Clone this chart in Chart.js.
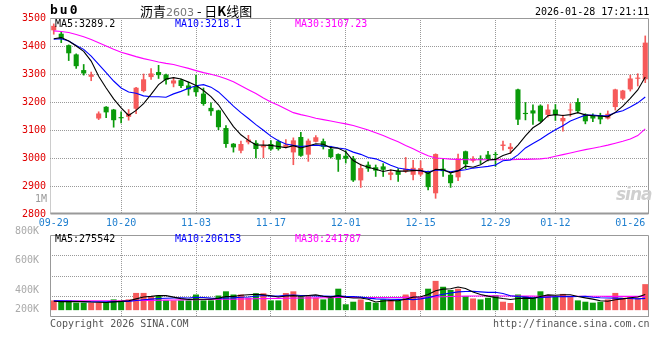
<!DOCTYPE html>
<html>
<head>
<meta charset="utf-8">
<script src="https://cdn.jsdelivr.net/npm/chart.js"></script>
<style>
  body { margin: 0; background: #fff; width: 660px; height: 360px; position: relative; overflow: hidden; }
  canvas { position: absolute; left: 0; }
  #kline { top: 0; }
  #vol { top: 226px; }
  .t { position: absolute; white-space: nowrap; font-family: "DejaVu Sans Mono", monospace; font-size: 10px; line-height: 12px; }
</style>
</head>
<body>
<canvas id="kline" width="660" height="232"></canvas>
<canvas id="vol" width="660" height="100"></canvas>

<div class="t" style="left:50px;top:4px;font-size:13px;font-weight:bold;letter-spacing:2px;">bu0</div>
<div class="t" style="left:140px;top:3px;font-family:'Noto Sans CJK SC';font-size:13px;line-height:15px;">沥青<span style="color:#777;font-family:'DejaVu Sans';font-size:11px;">2603</span> - 日<b>K</b>线图</div>
<div class="t" style="left:535px;top:6px;">2026-01-28 17:21:11</div>

<div class="t" style="left:55px;top:18px;color:#000;">MA5:3289.2</div>
<div class="t" style="left:175px;top:18px;color:#0000ff;">MA10:3218.1</div>
<div class="t" style="left:295px;top:18px;color:#ff00ff;">MA30:3107.23</div>
<div class="t" style="left:35px;top:193px;color:#999;">1M</div>

<div class="t" style="left:616px;top:184px;font-family:'DejaVu Sans';font-size:17px;line-height:20px;font-weight:bold;font-style:italic;color:#cfcfcf;letter-spacing:-1px;">sina</div>

<div class="t" style="left:55px;top:233px;color:#000;">MA5:275542</div>
<div class="t" style="left:175px;top:233px;color:#0000ff;">MA10:206153</div>
<div class="t" style="left:295px;top:233px;color:#ff00ff;">MA30:241787</div>

<div class="t" style="left:50px;top:318px;color:#555;">Copyright 2026 SINA.COM</div>
<div class="t" style="left:493px;top:318px;color:#555;">http://finance.sina.com.cn</div>

<script>
// trading days shown
const dates = [
  '09-29','09-30','10-09','10-10','10-13','10-14','10-15','10-16','10-17','10-20',
  '10-21','10-22','10-23','10-24','10-27','10-28','10-29','10-30','10-31','11-03',
  '11-04','11-05','11-06','11-07','11-10','11-11','11-12','11-13','11-14','11-17',
  '11-18','11-19','11-20','11-21','11-24','11-25','11-26','11-27','11-28','12-01',
  '12-02','12-03','12-04','12-05','12-08','12-09','12-10','12-11','12-12','12-15',
  '12-16','12-17','12-18','12-19','12-22','12-23','12-24','12-25','12-26','12-29',
  '12-30','12-31','01-05','01-06','01-07','01-08','01-09','01-12','01-13','01-14',
  '01-15','01-16','01-19','01-20','01-21','01-22','01-23','01-26','01-27','01-28'
];
const shownDates = ['09-29','10-20','11-03','11-17','12-01','12-15','12-29','01-12','01-26'];
const gridDates = ['10-20','11-03','11-17','12-01','12-15','12-29','01-12'];

const opens = [
  3456,3444,3403,3370,3314,3290,3141,3183,3173,3146,
  3147,3176,3239,3289,3307,3298,3266,3278,3259,3257,
  3230,3179,3170,3107,3051,3026,3056,3054,3038,3050,
  3060,3040,3020,3075,3012,3058,3060,3032,3014,3008,
  2998,2920,2976,2967,2970,2940,2954,2952,2940,2941,
  2952,2874,2962,2940,2931,3024,2990,2998,3012,3014,
  3043,3032,3245,3161,3170,3187,3154,3173,3131,3170,
  3200,3155,3153,3153,3141,3182,3212,3245,3283,3281
];
const highs = [
  3479,3450,3404,3372,3334,3307,3165,3184,3174,3165,
  3173,3252,3300,3319,3331,3300,3287,3282,3271,3296,
  3250,3197,3171,3116,3052,3060,3081,3062,3062,3062,
  3064,3066,3072,3092,3068,3080,3068,3042,3015,3026,
  3006,2978,2986,2975,2980,2958,2962,3002,2992,2990,
  2953,3015,2998,2945,3014,3025,3005,3008,3024,3021,
  3060,3052,3246,3198,3190,3190,3191,3191,3153,3194,
  3212,3158,3158,3160,3168,3246,3242,3296,3301,3436
];
const lows = [
  3442,3412,3348,3320,3296,3276,3137,3144,3110,3125,
  3135,3158,3236,3281,3284,3264,3254,3251,3224,3221,
  3188,3152,3101,3038,3021,3018,3050,3000,3001,3028,
  3028,3036,2976,3006,2988,3057,3032,3000,2952,2982,
  2916,2895,2952,2934,2934,2922,2916,2948,2922,2936,
  2886,2856,2934,2895,2919,2962,2985,2980,2990,2970,
  3028,3016,3119,3136,3120,3128,3146,3134,3096,3149,
  3161,3122,3130,3122,3139,3171,3208,3239,3257,3269
];
const closes = [
  3472,3427,3374,3328,3302,3298,3159,3163,3135,3142,
  3159,3251,3281,3302,3296,3279,3277,3257,3245,3235,
  3193,3167,3110,3050,3038,3050,3066,3032,3044,3031,
  3032,3048,3063,3008,3062,3074,3040,3003,2994,2997,
  2920,2964,2962,2955,2958,2948,2940,2962,2965,2964,
  2896,3014,2953,2910,2998,2978,2998,2994,2996,3011,
  3048,3040,3137,3157,3159,3131,3173,3154,3143,3173,
  3167,3131,3141,3138,3158,3245,3241,3284,3287,3412
];

const ma5 = [
  3426,3430,3418,3400,3381,3346,3292,3250,3211,3179,
  3152,3170,3194,3227,3262,3282,3287,3282,3271,3259,
  3241,3219,3190,3151,3112,3083,3063,3047,3046,3045,
  3041,3037,3044,3036,3043,3051,3049,3037,3035,3022,
  2991,2976,2967,2960,2952,2957,2953,2953,2955,2956,
  2945,2960,2958,2947,2954,2971,2967,2976,2993,2995,
  3009,3018,3046,3079,3108,3125,3151,3155,3152,3155,
  3162,3154,3151,3150,3147,3163,3185,3213,3243,3289
];
const ma10 = [
  3424,3426,3418,3402,3388,3364,3334,3305,3275,3250,
  3236,3231,3222,3219,3219,3217,3229,3238,3249,3258,
  3262,3253,3236,3211,3185,3162,3141,3119,3099,3078,
  3062,3050,3045,3041,3044,3046,3043,3041,3036,3032,
  3021,3013,3002,2997,2987,2974,2964,2960,2957,2954,
  2951,2956,2956,2951,2955,2958,2964,2967,2970,2975,
  2990,2993,3011,3036,3052,3067,3085,3101,3115,3132,
  3143,3153,3153,3151,3151,3162,3169,3182,3197,3218
];
const ma30 = [
  3454,3452,3448,3441,3433,3423,3412,3400,3388,3378,
  3370,3362,3355,3349,3343,3338,3334,3327,3320,3312,
  3305,3299,3292,3283,3272,3258,3244,3230,3214,3200,
  3188,3175,3162,3155,3149,3142,3137,3132,3127,3122,
  3116,3108,3100,3090,3080,3069,3058,3045,3033,3020,
  3008,3000,2998,2996,2995,2994,2994,2994,2994,2994,
  2994,2994,2995,2995,2996,2997,3000,3006,3012,3018,
  3024,3030,3035,3040,3046,3053,3060,3068,3080,3104
];

const volumes = [
  171000,148000,171000,131000,131000,131000,131000,143000,188000,171000,
  188000,302000,302000,240000,256000,171000,171000,171000,171000,274000,
  171000,171000,256000,330000,274000,274000,217000,296000,296000,171000,
  171000,300000,330000,245000,245000,217000,188000,245000,376000,103000,
  148000,188000,143000,131000,188000,188000,171000,274000,319000,225000,
  376000,513000,410000,354000,376000,245000,205000,188000,217000,262000,
  148000,125000,274000,245000,228000,330000,262000,245000,285000,228000,
  171000,148000,131000,148000,188000,302000,217000,228000,217000,456000
];
const volMa5 = [
  155000,150000,150000,150000,150000,142000,139000,133000,145000,153000,
  164000,198000,230000,241000,258000,254000,228000,202000,188000,192000,
  192000,192000,209000,240000,240000,261000,270000,278000,271000,251000,
  230000,247000,254000,243000,258000,267000,245000,228000,254000,226000,
  212000,212000,192000,143000,160000,168000,164000,190000,228000,235000,
  273000,341000,369000,376000,406000,380000,318000,274000,246000,223000,
  204000,188000,205000,211000,204000,240000,268000,262000,270000,270000,
  238000,215000,193000,165000,157000,183000,197000,217000,230000,276000
];
const volMa10 = [
  165000,165000,160000,155000,150000,148000,147000,148000,150000,152000,
  153000,169000,182000,193000,205000,209000,213000,216000,214000,225000,
  223000,210000,205000,214000,216000,226000,231000,243000,256000,246000,
  246000,259000,266000,257000,255000,249000,246000,241000,249000,242000,
  240000,229000,210000,198000,193000,190000,188000,191000,185000,198000,
  220000,253000,280000,302000,321000,326000,330000,321000,311000,315000,
  292000,253000,239000,229000,214000,222000,228000,234000,240000,237000,
  239000,242000,227000,218000,214000,211000,206000,205000,198000,206000
];
const volMa30 = [
  162000,162000,162000,163000,163000,164000,164000,165000,165000,166000,
  167000,168000,170000,172000,174000,176000,178000,180000,182000,184000,
  186000,188000,190000,192000,194000,196000,198000,200000,202000,204000,
  206000,208000,210000,212000,214000,216000,218000,220000,221000,222000,
  222000,222000,222000,222000,222000,222000,223000,224000,225000,226000,
  228000,232000,236000,240000,244000,246000,248000,249000,250000,250000,
  249000,248000,247000,246000,245000,244000,244000,243000,243000,243000,
  243000,243000,243000,243000,242000,242000,242000,242000,242000,242000
];
const volTickLabels = ['200K','400K','600K','800K'];

const UP = '#f65a5a';
const DOWN = '#0a9a0a';
const GRID = '#999';
const mono = { family: '"DejaVu Sans Mono", monospace', size: 10 };

const candleColors = closes.map((c, i) => c >= opens[i] ? UP : DOWN);

// border round the plot area
const framePlugin = {
  id: 'frame',
  afterDraw(chart, args, o) {
    const { ctx, chartArea: a } = chart;
    const l = Math.round(a.left) + 0.5, r = Math.round(a.right) - 0.5;
    const t = Math.round(a.top) + 0.5, b = Math.round(a.bottom) - 0.5;
    const seg = (x1, y1, x2, y2) => { ctx.beginPath(); ctx.moveTo(x1, y1); ctx.lineTo(x2, y2); ctx.stroke(); };
    ctx.save();
    ctx.strokeStyle = o.color || '#999';
    ctx.lineWidth = 1;
    seg(l, t, r, t);
    seg(r, t, r, b + 0.5);
    ctx.lineWidth = o.bottomWidth || 1;
    seg(l, b, r, b);
    ctx.lineWidth = 1;
    ctx.setLineDash(o.leftDash || []);
    seg(l, t, l, b);
    ctx.restore();
  }
};

const xGridColor = (ctx) => gridDates.includes(dates[ctx.index]) ? GRID : 'rgba(0,0,0,0)';

function maLine(data, color) {
  return {
    type: 'line', data, borderColor: color, borderWidth: 1.1,
    pointRadius: 0, tension: 0, fill: false, order: 0, yAxisID: 'y'
  };
}

new Chart(document.getElementById('kline'), {
  type: 'bar',
  data: {
    labels: dates,
    datasets: [
      maLine(ma5, '#000000'),
      maLine(ma10, '#0000ff'),
      maLine(ma30, '#ff00ff'),
      {
        // body
        data: opens.map((o, i) => [o, closes[i]]),
        backgroundColor: candleColors,
        borderWidth: 0,
        barPercentage: 0.68,
        categoryPercentage: 1,
        grouped: false,
        order: 1
      },
      {
        // wick
        data: lows.map((l, i) => [l, highs[i]]),
        backgroundColor: candleColors,
        borderWidth: 0,
        barThickness: 1,
        grouped: false,
        order: 2
      }
    ]
  },
  options: {
    responsive: false,
    animation: false,
    layout: { padding: { left: 0, right: 11, top: 18, bottom: 0 } },
    plugins: {
      legend: { display: false },
      tooltip: { enabled: false },
      frame: { color: '#999', bottomWidth: 2, leftDash: [1, 1] }
    },
    scales: {
      x: {
        offset: true,
        grid: { offset: false, drawTicks: false, color: xGridColor },
        border: { display: false, dash: [1, 1] },
        ticks: {
          autoSkip: false, maxRotation: 0, padding: 3, color: '#1f7fcf', font: mono,
          callback: (v, i) => shownDates.includes(dates[i]) ? dates[i] : ''
        },
        afterFit: (s) => { s.height = 18; }
      },
      y: {
        min: 2800, max: 3500,
        ticks: { stepSize: 100, padding: 4, color: '#e00000', font: mono, callback: (v) => String(v) },
        grid: {
          drawTicks: false,
          color: (ctx) => (ctx.tick && (ctx.tick.value === 2800 || ctx.tick.value === 3500)) ? 'rgba(0,0,0,0)' : GRID
        },
        border: { display: false, dash: [1, 1] },
        afterFit: (s) => { s.width = 50; }
      }
    }
  },
  plugins: [framePlugin]
});

const volMin = -120000, volMax = 1317000;

new Chart(document.getElementById('vol'), {
  type: 'bar',
  data: {
    labels: dates,
    datasets: [
      maLine(volMa5, '#000000'),
      maLine(volMa10, '#0000ff'),
      maLine(volMa30, '#ff00ff'),
      {
        data: volumes,
        backgroundColor: candleColors,
        borderWidth: 0,
        barPercentage: 0.8,
        categoryPercentage: 1,
        order: 1,
        yAxisID: 'y'
      }
    ]
  },
  options: {
    responsive: false,
    animation: false,
    layout: { padding: { left: 0, right: 11, top: 8, bottom: 7 } },
    plugins: {
      legend: { display: false },
      tooltip: { enabled: false },
      frame: { color: '#999', bottomWidth: 1, leftDash: [] }
    },
    scales: {
      x: {
        offset: true,
        grid: { offset: false, drawTicks: false, color: xGridColor },
        border: { display: false, dash: [1, 1] },
        ticks: { autoSkip: false, maxRotation: 0, padding: 0, color: 'rgba(0,0,0,0)', font: mono, callback: () => '' },
        afterFit: (s) => { s.height = 1; }
      },
      // grid lines of the volume panel (outer axis, 1px wide)
      y: {
        weight: 1,
        min: volMin, max: volMax,
        afterBuildTicks: (s) => { s.ticks = [239400, 598500, 957600].map(v => ({ value: v })); },
        ticks: { padding: 0, color: 'rgba(0,0,0,0)', font: mono, callback: () => '' },
        grid: { drawTicks: false, color: GRID },
        border: { display: false, dash: [1, 1] },
        afterFit: (s) => { s.width = 1; }
      },
      // labels of the volume panel (next to the plot)
      lab: {
        axis: 'y',
        position: 'left',
        weight: 0,
        min: volMin, max: volMax,
        afterBuildTicks: (s) => { s.ticks = [8500, 342000, 864000, 1385000].map(v => ({ value: v })); },
        ticks: { padding: 3, color: '#aaa', font: mono, callback: (v, i) => volTickLabels[i] },
        grid: { display: false },
        border: { display: false },
        afterFit: (s) => { s.width = 49; }
      }
    }
  },
  plugins: [framePlugin]
});
</script>
</body>
</html>
